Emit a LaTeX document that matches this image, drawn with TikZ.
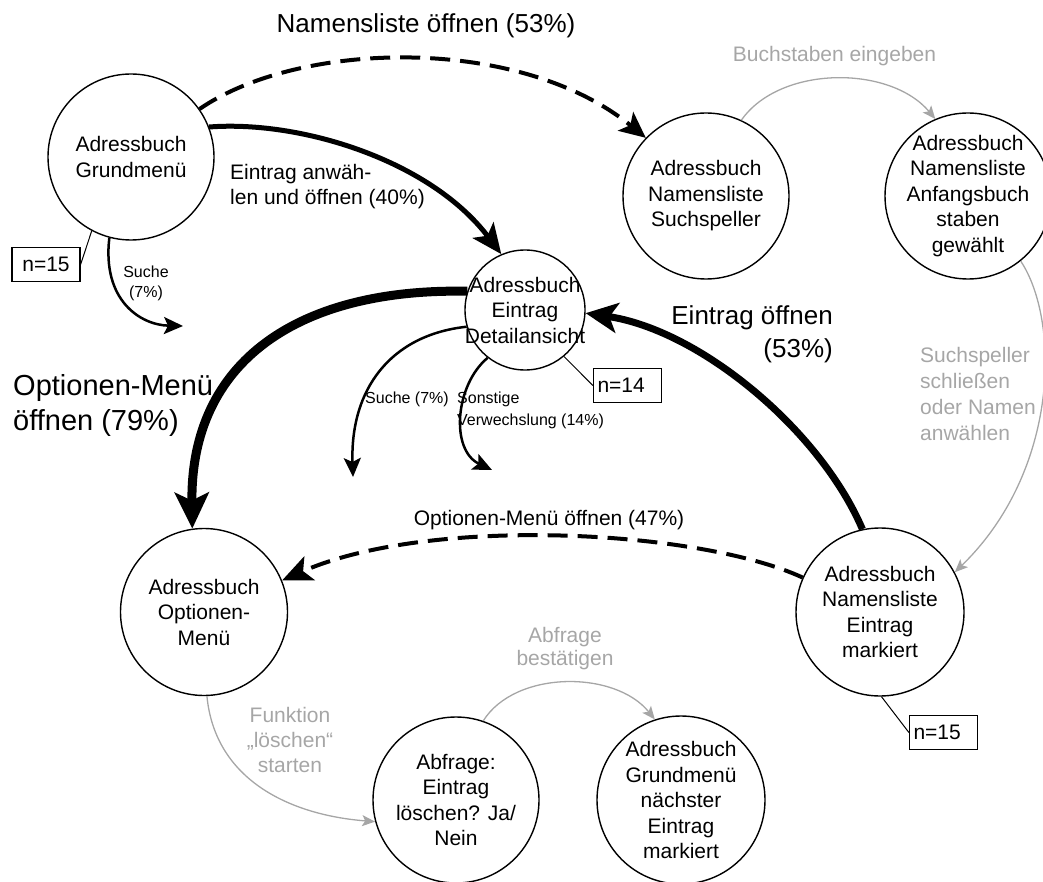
\documentclass[tikz,border=0pt]{standalone}
\usepackage{fontspec}
\setmainfont{Liberation Sans}
\usetikzlibrary{arrows.meta}
\definecolor{lg}{RGB}{166,166,166}
\begin{document}
\begin{tikzpicture}[x=1pt,y=-1pt,
  circ/.style={circle, draw, line width=1.4pt, minimum size=166pt, inner sep=0pt},
  ctext/.style={align=center, font=\fontsize{21}{25.5}\selectfont, inner sep=0pt},
  lbl/.style={font=\fontsize{21}{25}\selectfont, inner sep=0pt},
  glbl/.style={lbl, text=lg},
  small/.style={font=\fontsize{16}{20}\selectfont, inner sep=0pt},
  nbox/.style={draw, line width=1.2pt, minimum height=34pt, inner ysep=0pt, font=\fontsize{21}{25}\selectfont},
  nline/.style={line width=1pt},
  garrow/.style={draw=lg, line width=1.3pt, -{Stealth[length=13pt,width=11pt,inset=3pt]}},
  dasharrow/.style={line width=4pt, dash pattern=on 20pt off 10pt, -{Stealth[length=26pt,width=24pt,inset=6pt]}},
  smallarrow/.style={line width=2.5pt, -{Stealth[length=19pt,width=17pt,inset=4pt]}}
]
\useasboundingbox (0,0) rectangle (1043,882);

% states
\node[circ] (g) at (131,157) {};
\node[ctext] (gt) at (g) {Adressbuch\\Grundmenü};
\node[circ] (s) at (706,196) {};
\node[ctext] (st) at (s) {Adressbuch\\Namensliste\\Suchspeller};
\node[circ] (a) at (968,196) {};
\node[ctext] (at) at (a) {Adressbuch\\Namensliste\\Anfangsbuch\\staben\\gewählt};
\node[circ, minimum size=120pt] (d) at (525,310) {};
\node[ctext] (dt) at (d) {Adressbuch\\Eintrag\\Detailansicht};
\node[circ, minimum size=167pt] (o) at (204,612) {};
\node[ctext] (ot) at (o) {Adressbuch\\Optionen-\\Menü};
\node[circ, minimum size=168pt] (e) at (880,612) {};
\node[ctext] (et) at (e) {Adressbuch\\Namensliste\\Eintrag\\markiert};
\node[circ] (b) at (456,800) {};
\node[ctext] (bt) at (b) {Abfrage:\\Eintrag\\löschen? Ja/\\Nein};
\node[circ, minimum size=168pt] (n) at (681,800) {};
\node[ctext] (nt) at (n) {Adressbuch\\Grundmenü\\nächster\\Eintrag\\markiert};

% n boxes
\node[nbox, minimum width=68pt, inner xsep=0pt] (n1) at (46,264.5) {n=15};
\node[nbox, text width=60pt, inner xsep=4pt, align=left] (n2) at (627.5,385.5) {n=14};
\node[nbox, text width=60pt, inner xsep=4pt, align=left] (n3) at (943.5,732.5) {n=15};
\draw[nline] (g.242) -- (n1.east);
\draw[nline] (d.-50) -- (n2.west);
\draw[nline] (e.-89) -- (n3.west);

% free ends
\coordinate (s1) at (183,326);
\coordinate (s2) at (353,477);
\coordinate (s3) at (492,470);

% black transitions
\draw[dasharrow] (g.35) .. controls (300,40) and (520,35) .. (s.136);
\draw[line width=5pt, -{Stealth[length=30pt,width=26pt,inset=7pt]}] (g.21) .. controls (300,120) and (430,160) .. (d.113);
\draw[smallarrow] (g.255) .. controls (102,300) and (140,325) .. (s1);
\draw[line width=9pt, -{Stealth[length=36pt,width=34pt,inset=8pt]}] (d.162) .. controls (300,288) and (190,360) .. (o.98);
\draw[smallarrow] (d.196) .. controls (390,335) and (350,390) .. (s2);
\draw[smallarrow] (d.232) .. controls (455,385) and (450,450) .. (s3);
\draw[line width=7pt, -{Stealth[length=32pt,width=30pt,inset=8pt]}] (e.102) .. controls (820,430) and (700,330) .. (d.-3);
\draw[dasharrow, -{Stealth[length=30pt,width=26pt,inset=7pt]}] (e.156) .. controls (700,530) and (430,515) .. (o.22);

% grey transitions
\draw[garrow] (s.65) .. controls (780,65) and (890,65) .. (a.113);
\draw[garrow] (a.-51) .. controls (1060,320) and (1060,470) .. (e.28);
\draw[garrow] (o.-88) .. controls (215,780) and (290,815) .. (b.195);
\draw[garrow] (b.71) .. controls (515,670) and (615,670) .. (n.108);

% labels
\node[font=\fontsize{26}{30}\selectfont, inner sep=0pt, anchor=base] (l1) at (426,33) {Namensliste öffnen (53\%)};
\node[lbl, align=left, anchor=west] (l2) at (230,187) {Eintrag anwäh-\\len und öffnen (40\%)};
\node[small, align=center] (l3) at (146,283.5) {Suche\\(7\%)};
\node[font=\fontsize{29}{35}\selectfont, inner sep=0pt, align=left, anchor=west] (l4) at (13,405) {Optionen-Menü\\öffnen (79\%)};
\node[small, anchor=base west] (l5) at (365,403) {Suche (7\%)};
\node[small, font=\fontsize{16}{22}\selectfont, align=left, anchor=west] (l6) at (457,410) {Sonstige\\Verwechslung (14\%)};
\node[font=\fontsize{26}{33}\selectfont, inner sep=0pt, align=right, anchor=east] (l7) at (833,334) {Eintrag öffnen\\(53\%)};
\node[lbl, anchor=base] (l8) at (549,525) {Optionen-Menü öffnen (47\%)};
\node[glbl, anchor=base] (l9) at (834.5,62) {Buchstaben eingeben};
\node[glbl, align=left, anchor=west, font=\fontsize{21}{25.7}\selectfont] (l10) at (920,394) {Suchspeller\\schließen\\oder Namen\\anwählen};
\node[glbl, align=center] (l11) at (290,740) {Funktion\\„löschen“\\starten};
\node[glbl, align=center, font=\fontsize{21}{23}\selectfont] (l12) at (565,648.5) {Abfrage\\bestätigen};
\end{tikzpicture}
\end{document}
